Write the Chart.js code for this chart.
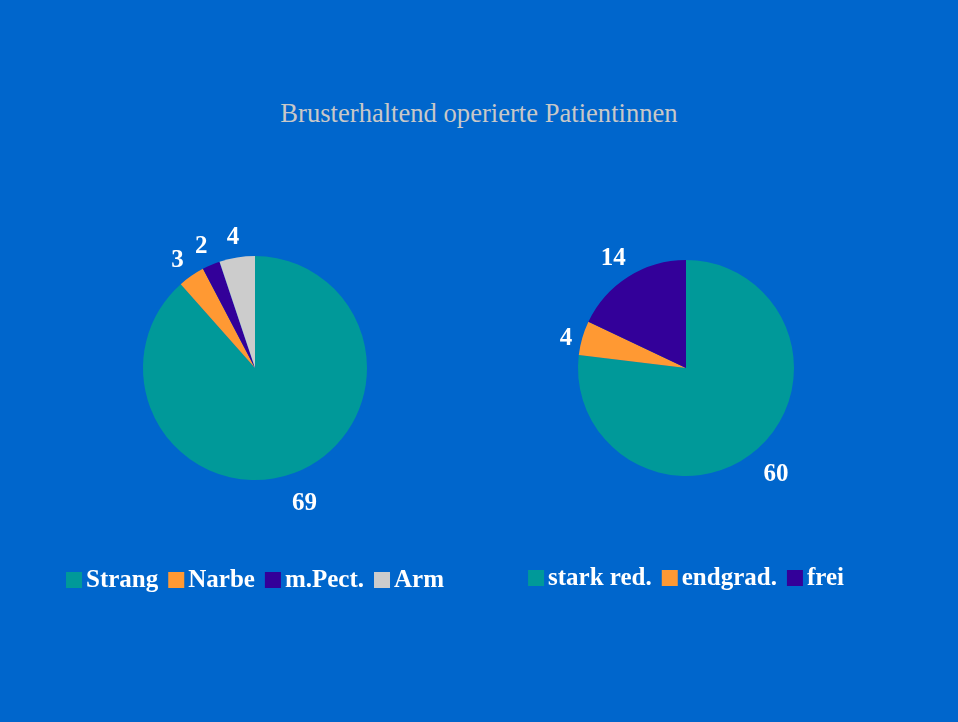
<!DOCTYPE html>
<html lang="de">
<head>
<meta charset="utf-8">
<title>Brusterhaltend operierte Patientinnen</title>
<script src="https://cdn.jsdelivr.net/npm/chart.js@4/dist/chart.umd.min.js"></script>
<style>
  html, body { margin: 0; padding: 0; background: #0066CC; }
  #cadre { position: relative; width: 958px; height: 722px; background: #0066CC; overflow: hidden; }
  #cadre canvas { position: absolute; left: 0; top: 0; }
  #titre {
    position: absolute; left: 0; top: 98px; width: 958px; text-align: center;
    font-family: "Liberation Serif", "DejaVu Serif", serif; font-size: 26.6px; line-height: 30px;
    color: #C8C8C8;
  }
</style>
</head>
<body>
<div id="cadre">
  <div id="titre"></div>
  <canvas id="gauche" width="958" height="722"></canvas>
  <canvas id="droite" width="958" height="722"></canvas>
</div>
<script>
// données
const titre = "Brusterhaltend operierte Patientinnen";

const categoriesGauche = ["Strang", "Narbe", "m.Pect.", "Arm"];
const valeursGauche = [69, 3, 2, 4];
const couleursGauche = ["#009999", "#FF9933", "#330099", "#CCCCCC"];

const categoriesDroite = ["stark red.", "endgrad.", "frei"];
const valeursDroite = [60, 4, 14];
const couleursDroite = ["#009999", "#FF9933", "#330099"];

const policeTexte = "bold 25px 'Liberation Serif', 'DejaVu Serif', serif";

document.getElementById("titre").textContent = titre;

// étiquettes des valeurs à l'extérieur des parts
const etiquettesExterieures = {
  id: "etiquettesExterieures",
  afterDatasetsDraw(chart) {
    const ctx = chart.ctx;
    const meta = chart.getDatasetMeta(0);
    const valeurs = chart.data.datasets[0].data;
    ctx.save();
    ctx.font = policeTexte;
    ctx.fillStyle = "#FFFFFF";
    ctx.textAlign = "center";
    ctx.textBaseline = "middle";
    meta.data.forEach(function (arc, i) {
      const p = arc.getProps(["x", "y", "startAngle", "endAngle", "outerRadius"], true);
      const milieu = (p.startAngle + p.endAngle) / 2;
      const texte = String(valeurs[i]);
      const w = ctx.measureText(texte).width;
      const dist = p.outerRadius + 6 + Math.abs(Math.cos(milieu)) * w / 2 + Math.abs(Math.sin(milieu)) * 18;
      ctx.fillText(texte, p.x + Math.cos(milieu) * dist, p.y + Math.sin(milieu) * dist + 5);
    });
    ctx.restore();
  }
};

// légende dessinée sous chaque camembert
const legendeBas = {
  id: "legendeBas",
  afterDraw(chart, args, opts) {
    const ctx = chart.ctx;
    const labels = chart.data.labels;
    const couleurs = chart.data.datasets[0].backgroundColor;
    const boite = 16, ecart = 4, espace = 10;
    ctx.save();
    ctx.font = policeTexte;
    let total = 0;
    labels.forEach(function (l, i) {
      total += boite + ecart + ctx.measureText(l).width;
      if (i < labels.length - 1) total += espace;
    });
    let x = opts.centreX - total / 2;
    ctx.textBaseline = "alphabetic";
    ctx.textAlign = "left";
    labels.forEach(function (l, i) {
      ctx.fillStyle = couleurs[i];
      ctx.fillRect(x, opts.y - boite / 2, boite, boite);
      x += boite + ecart;
      ctx.fillStyle = "#FFFFFF";
      ctx.fillText(l, x, opts.y + 7);
      x += ctx.measureText(l).width + espace;
    });
    ctx.restore();
  }
};

function creerCamembert(id, categories, valeurs, couleurs, centreX, rayon, legendeY) {
  const canvas = document.getElementById(id);
  const largeur = 958;
  const config = {
    type: "pie",
    data: {
      labels: categories,
      datasets: [{
        data: valeurs,
        backgroundColor: couleurs,
        borderWidth: 0,
        radius: rayon
      }]
    },
    options: {
      responsive: false,
      animation: false,
      layout: {
        padding: {
          left: Math.max(0, 2 * centreX - largeur),
          right: Math.max(0, largeur - 2 * centreX),
          top: 14,
          bottom: 0
        }
      },
      plugins: {
        legend: { display: false },
        tooltip: { enabled: false },
        title: { display: false },
        legendeBas: { centreX: centreX, y: legendeY }
      }
    },
    plugins: [etiquettesExterieures, legendeBas]
  };
  return new Chart(canvas, config);
}

creerCamembert("gauche", categoriesGauche, valeursGauche, couleursGauche, 255, 112, 580);
creerCamembert("droite", categoriesDroite, valeursDroite, couleursDroite, 686, 108, 578);
</script>
</body>
</html>
